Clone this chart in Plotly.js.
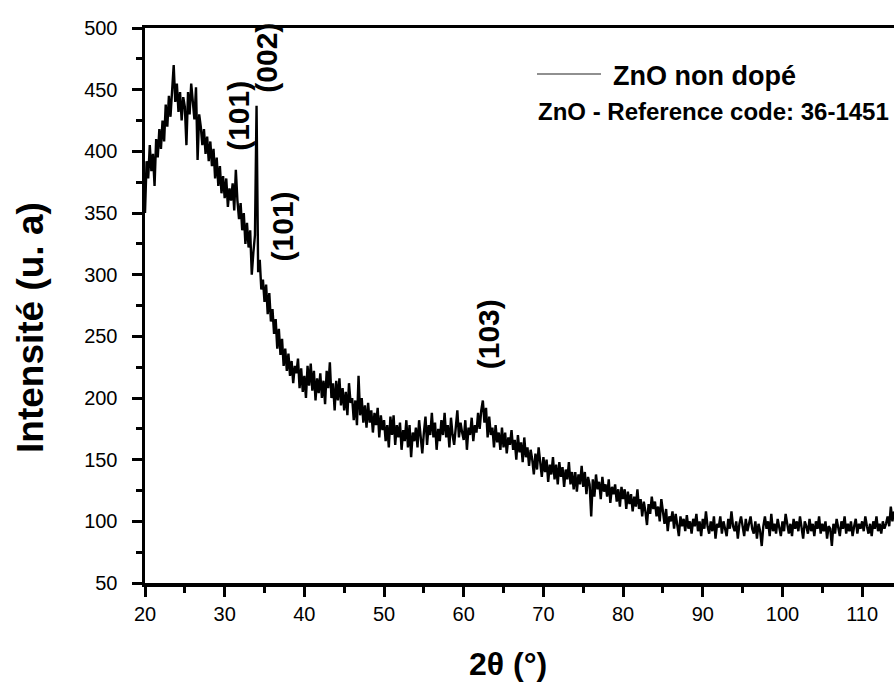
<!DOCTYPE html>
<html>
<head>
<meta charset="utf-8">
<script src="https://cdn.plot.ly/plotly-3.0.1.min.js"></script>
<style>
  html, body { margin: 0; padding: 0; background: #fff; }
  #chart { width: 894px; height: 682px; }
</style>
</head>
<body>
<div id="chart"></div>
<script>
// XRD scan of undoped ZnO: 2θ from 20° in 0.2° steps
const twoThetaStart = 20;
const twoThetaStep = 0.2;

// intensity counts, one row per degree (x.0, x.2, x.4, x.6, x.8)
const intensity = [
  350, 392, 378, 405, 384,   // 20
  398, 372, 410, 395, 418,   // 21
  402, 425, 408, 438, 420,   // 22
  445, 428, 452, 470, 440,   // 23
  455, 432, 448, 425, 444,   // 24
  436, 405, 448, 430, 455,   // 25
  438, 426, 452, 393, 430,   // 26
  420, 405, 418, 398, 412,   // 27
  392, 408, 388, 402, 378,   // 28
  395, 372, 388, 366, 380,   // 29
  362, 378, 355, 370, 360,   // 30
  374, 352, 385, 360, 345,   // 31
  358, 336, 350, 325, 342,   // 32
  322, 336, 300, 318, 332,   // 33
  437, 302, 312, 288, 296,   // 34
  278, 292, 268, 285, 262,   // 35
  272, 252, 264, 240, 256,   // 36
  235, 248, 226, 240, 222,   // 37
  236, 218, 230, 212, 226,   // 38
  220, 232, 208, 224, 205,   // 39
  218, 200, 226, 210, 228,   // 40
  206, 222, 198, 216, 204,   // 41
  220, 200, 214, 195, 222,   // 42
  208, 229, 200, 212, 190,   // 43
  214, 198, 216, 194, 208,   // 44
  190, 205, 186, 212, 196,   // 45
  200, 182, 198, 178, 218,   // 46
  186, 200, 180, 194, 176,   // 47
  196, 180, 190, 172, 188,   // 48
  178, 192, 168, 186, 174,   // 49
  182, 165, 178, 160, 185,   // 50
  170, 186, 162, 178, 168,   // 51
  180, 158, 174, 165, 182,   // 52
  160, 178, 152, 172, 165,   // 53
  176, 160, 182, 168, 155,   // 54
  172, 185, 162, 178, 170,   // 55
  188, 168, 180, 158, 175,   // 56
  165, 182, 170, 188, 168,   // 57
  178, 160, 184, 170, 162,   // 58
  176, 190, 168, 180, 172,   // 59
  166, 182, 158, 176, 170,   // 60
  184, 165, 178, 172, 188,   // 61
  175, 190, 198, 180, 192,   // 62
  168, 185, 170, 176, 160,   // 63
  178, 164, 172, 158, 176,   // 64
  160, 172, 155, 168, 162,   // 65
  174, 158, 166, 150, 170,   // 66
  156, 164, 148, 168, 152,   // 67
  160, 145, 158, 150, 138,   // 68
  155, 142, 160, 148, 136,   // 69
  152, 140, 150, 132, 146,   // 70
  138, 152, 134, 146, 130,   // 71
  148, 136, 144, 128, 142,   // 72
  134, 148, 130, 140, 126,   // 73
  140, 124, 138, 130, 145,   // 74
  128, 140, 122, 136, 130,   // 75
  104, 134, 120, 138, 126,   // 76
  132, 118, 136, 124, 130,   // 77
  120, 134, 115, 128, 122,   // 78
  130, 116, 126, 112, 128,   // 79
  118, 126, 110, 124, 114,   // 80
  122, 108, 120, 112, 126,   // 81
  110, 118, 104, 116, 108,   // 82
   97, 114, 106, 120, 110,   // 83
  116, 104, 112, 100, 118,   // 84
  106,  98, 110,  92, 104,   // 85
  100, 108,  94, 106,  98,   // 86
   88, 104,  96, 102,  92,   // 87
  105,  94, 100,  90, 102,   // 88
   96, 106,  92, 100,  88,   // 89
  102,  94, 108,  96,  90,   // 90
  100,  92, 104,  86,  98,   // 91
   95, 104,  90, 100,  94,   // 92
   88, 102,  94, 108,  96,   // 93
   92, 100,  86,  98, 104,   // 94
   96,  88, 102,  92,  98,   // 95
  104,  94,  90, 100,  86,   // 96
   98,  92,  80,  96, 104,   // 97
   94, 100,  88, 106,  92,   // 98
   98,  90, 102,  94,  88,   // 99
  100,  92, 106,  96,  90,   // 100
   98,  88, 102,  94, 100,   // 101
   92, 104,  96,  86, 100,   // 102
   96,  90, 102,  92,  98,   // 103
   88, 100,  94, 104,  90,   // 104
   98,  92, 100,  86,  96,   // 105
   94,  80,  98,  90, 102,   // 106
   96,  88, 100,  94, 104,   // 107
   90,  98,  92, 100,  88,   // 108
   96, 102,  90,  98,  94,   // 109
  100,  92, 104,  96,  90,   // 110
   98,  88, 100,  94, 104,   // 111
   92,  98,  90, 100,  94,   // 112
   98, 104,  96, 112, 100,   // 113
  108                        // 114
];

// reflection labels: text, 2θ position, intensity position
const peakLabels = ['(101)', '(002)', '(101)', '(103)'];
const peakLabelX = [31.7, 35.2, 37.3, 63.1];
const peakLabelY = [429, 476, 339, 252];

const sampleName = 'ZnO non dopé';
const referenceText = 'ZnO - Reference code: 36-1451';
const xTitle = '2θ (°)';
const yTitle = 'Intensité (u. a)';

const FONT = 'Liberation Sans, Arial, Helvetica, sans-serif';

const trace = {
  type: 'scatter',
  mode: 'lines',
  x0: twoThetaStart,
  dx: twoThetaStep,
  y: intensity,
  line: { color: '#000', width: 2.4 },
  showlegend: false
};

const annotations = peakLabels.map((t, i) => ({
  text: '<b>' + t + '</b>',
  x: peakLabelX[i], y: peakLabelY[i],
  xref: 'x', yref: 'y',
  showarrow: false, textangle: -90,
  font: { family: FONT, size: 30, color: '#000' }
}));

annotations.push({
  text: '<b>' + sampleName + '</b>',
  xref: 'paper', yref: 'paper',
  x: (611 - 145) / 749, y: (583 - 76) / 555,
  xanchor: 'left', yanchor: 'middle',
  showarrow: false,
  font: { family: FONT, size: 27, color: '#000' }
});
annotations.push({
  text: '<b>' + referenceText + '</b>',
  xref: 'paper', yref: 'paper',
  x: (536 - 145) / 749, y: (583 - 111) / 555,
  xanchor: 'left', yanchor: 'middle',
  showarrow: false,
  font: { family: FONT, size: 24, color: '#000' }
});
// axis titles
annotations.push({
  text: '<b>' + xTitle + '</b>',
  xref: 'paper', yref: 'paper',
  x: (508 - 145) / 749, y: (583 - 664) / 555,
  xanchor: 'center', yanchor: 'middle',
  showarrow: false,
  font: { family: FONT, size: 32, color: '#000' }
});
annotations.push({
  text: '<b>' + yTitle + '</b>',
  xref: 'paper', yref: 'paper',
  x: (30 - 145) / 749, y: (583 - 328) / 555,
  xanchor: 'center', yanchor: 'middle',
  showarrow: false, textangle: -90,
  font: { family: FONT, size: 37, color: '#000' }
});

const layout = {
  width: 894, height: 682,
  margin: { l: 145, r: 0, t: 28, b: 99 },
  paper_bgcolor: '#fff', plot_bgcolor: '#fff',
  font: { family: FONT, color: '#000' },
  xaxis: {
    range: [20, 114],
    tickmode: 'linear', tick0: 20, dtick: 10,
    ticks: 'outside', ticklen: 10, tickwidth: 3, tickcolor: '#000',
    minor: { ticks: 'outside', dtick: 5, ticklen: 6, tickwidth: 3, tickcolor: '#000' },
    showline: true, linewidth: 3.5, linecolor: '#000', mirror: true,
    showgrid: false, zeroline: false,
    tickfont: { family: FONT, size: 20, color: '#000' }
  },
  yaxis: {
    range: [50, 500],
    tickmode: 'linear', tick0: 50, dtick: 50,
    ticks: 'outside', ticklen: 10, tickwidth: 3, tickcolor: '#000',
    minor: { ticks: 'outside', dtick: 25, ticklen: 6, tickwidth: 3, tickcolor: '#000' },
    showline: true, linewidth: 3.5, linecolor: '#000', mirror: false,
    showgrid: false, zeroline: false,
    tickfont: { family: FONT, size: 20, color: '#000' },
    ticklabelstandoff: 10
  },
  shapes: [{
    type: 'line', xref: 'paper', yref: 'paper',
    x0: (537 - 145) / 749, x1: (601 - 145) / 749,
    y0: (583 - 74) / 555, y1: (583 - 74) / 555,
    line: { color: '#222', width: 1.2 }
  }],
  annotations: annotations,
  showlegend: false
};

Plotly.newPlot('chart', [trace], layout, { displayModeBar: false, staticPlot: true });
</script>
</body>
</html>
